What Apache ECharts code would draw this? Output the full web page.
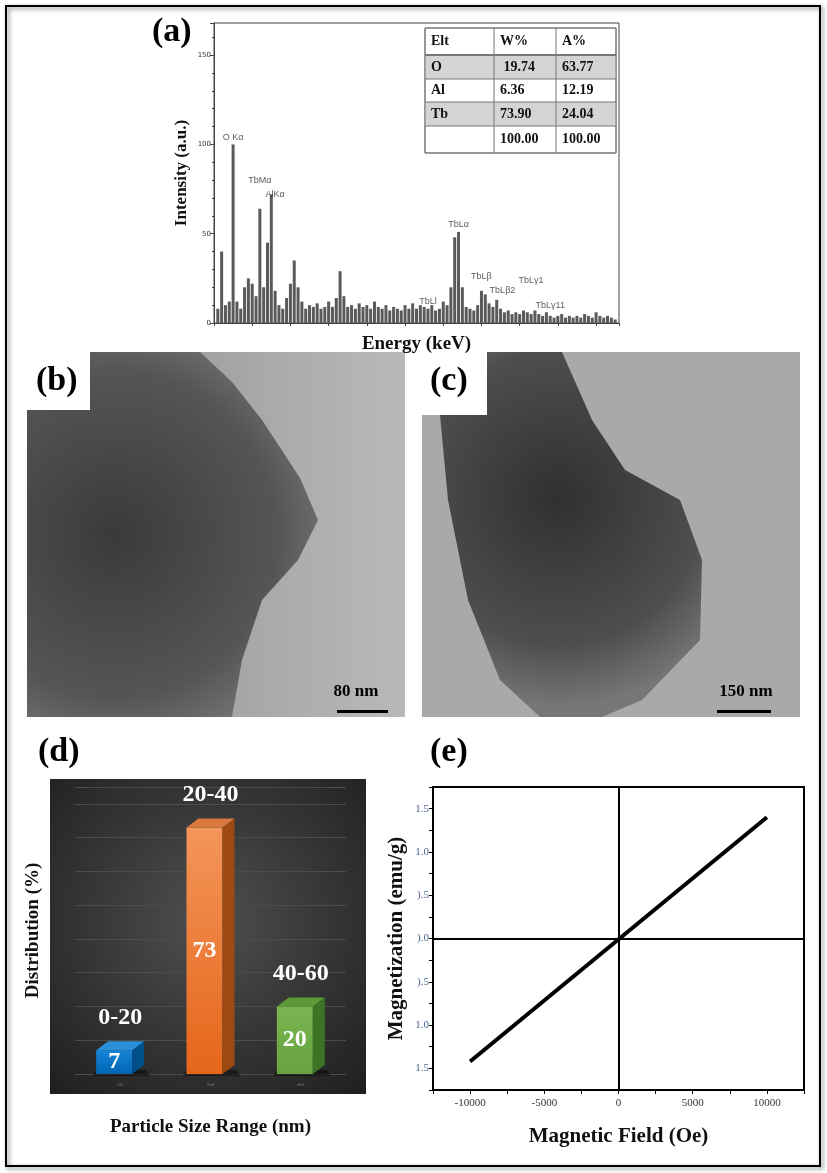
<!DOCTYPE html>
<html>
<head>
<meta charset="utf-8">
<title>Tb-Al-O figure</title>
<script src="https://cdn.jsdelivr.net/npm/echarts@6/dist/echarts.min.js"></script>
</head>
<body style="margin:0;background:#fff;">
<div id="main" style="width:827px;height:1173px;"></div>
<script>
// (a) EDS spectrum, one value every 0.1 keV starting at 0.1 keV
var edsStart = 0.1, edsStep = 0.1;
var edsCounts = [8,40,10,12,100,12,8,20,25,22,15,64,20,45,72,18,10,8,14,22,
  35,20,12,8,10,9,11,8,9,12,9,14,29,15,9,10,8,11,9,10,
  8,12,9,8,10,7,9,8,7,10,8,11,8,10,9,8,10,7,8,12,
  10,20,48,51,20,9,8,7,10,18,16,11,9,13,8,6,7,5,6,5,
  7,6,5,7,5,4,6,4,3,4,5,3,4,3,4,3,5,4,3,6,4,3,4,3,2];
var peakNames = ['O K\u03b1','TbM\u03b1','AlK\u03b1','TbL\u03b1','TbLl','TbL\u03b2','TbL\u03b22','TbL\u03b31','TbL\u03b311'];
var peakPos = [[0.5,104],[1.2,80],[1.6,72],[6.4,55],[5.6,12],[7.0,26],[7.55,18],[8.3,24],[8.8,10]];
var tableRows = [['Elt','W%','A%'],['O',' 19.74','63.77'],['Al','6.36','12.19'],['Tb','73.90','24.04'],['','100.00','100.00']];

// (d) particle size distribution
var sizeRanges = ['0-20','20-40','40-60'];
var sizeShare = [7,73,20];

// (e) M-H curve end points
var fieldOe = [-10000,10000];
var magnet = [-1.42,1.40];
var fieldLabelTicks = [-10000,-5000,0,5000,10000];
var fieldTicks = [-12500,-10000,-7500,-5000,-2500,0,2500,5000,7500,10000,12500];
var magLabels = {'1.5':'1.5','1':'1.0','0.5':').5','0':').0','-0.5':').5','-1':'1.0','-1.5':'1.5'};

var eds = edsCounts.map(function(v,i){ return [+(edsStart+i*edsStep).toFixed(2), v]; });

var barColors = [
  {front:['#1784d6','#0065b3'], top:'#2a8fd8', side:'#004e8a'},
  {front:['#f4955a','#e5661a'], top:'#d9793f', side:'#9c4a12'},
  {front:['#79b550','#66a23e'], top:'#5b9a36', side:'#3e7225'}
];

var chart = echarts.init(document.getElementById('main'));
var serif = 'Liberation Serif';

function render3dBar(params, api){
  var i = api.value(0), v = api.value(1);
  var base = api.coord([i, 0]), topP = api.coord([i, v]);
  var w = 36, dx = 12, dy = 9;
  var x0 = base[0] - w/2 - 6, x1 = x0 + w, yb = base[1], yt = topP[1];
  var c = barColors[i];
  return {type:'group', children:[
    {type:'polygon', shape:{points:[[x0-4,yb+2],[x1+dx+6,yb+2],[x1+dx+2,yb-4],[x0,yb-4]]}, style:{fill:'rgba(0,0,0,0.45)'}},
    {type:'rect', shape:{x:x0,y:yt,width:w,height:yb-yt},
      style:{fill:new echarts.graphic.LinearGradient(0,0,0,1,[{offset:0,color:c.front[0]},{offset:1,color:c.front[1]}])}},
    {type:'polygon', shape:{points:[[x1,yt],[x1+dx,yt-dy],[x1+dx,yb-dy],[x1,yb]]}, style:{fill:c.side}},
    {type:'polygon', shape:{points:[[x0,yt],[x0+dx,yt-dy],[x1+dx,yt-dy],[x1,yt]]}, style:{fill:c.top}},
    {type:'text', style:{text:String(v), x:x0+w/2, y:(yt+yb)/2, align:'center', verticalAlign:'middle',
      fill:'#fff', font:'bold 24px "Liberation Serif"'}},
    {type:'text', style:{text:sizeRanges[i], x:x0+w/2+6, y:yt-dy-12, align:'center', verticalAlign:'bottom',
      fill:'#fff', font:'bold 24px "Liberation Serif"'}}
  ]};
}

var tableGraphics = [];
(function(){
  var xs = [425,494,556,616], ys = [28,55,79,102,126,153];
  tableGraphics.push({type:'rect', shape:{x:425,y:28,width:191,height:125}, style:{fill:'#fff',stroke:'#777',lineWidth:1}});
  [1,3].forEach(function(r){
    tableGraphics.push({type:'rect', shape:{x:425,y:ys[r],width:191,height:ys[r+1]-ys[r]}, style:{fill:'#d4d4d4'}});
  });
  for (var r=1;r<5;r++) tableGraphics.push({type:'line', shape:{x1:425,y1:ys[r],x2:616,y2:ys[r]}, style:{stroke:'#777',lineWidth:r==1?2:1}});
  for (var k=1;k<3;k++) tableGraphics.push({type:'line', shape:{x1:xs[k],y1:28,x2:xs[k],y2:153}, style:{stroke:'#777'}});
  tableGraphics.push({type:'rect', shape:{x:425,y:28,width:191,height:125}, style:{fill:'none',stroke:'#777',lineWidth:1}});
  tableRows.forEach(function(row,r){
    row.forEach(function(t,k){
      tableGraphics.push({type:'text', style:{text:t, x:xs[k]+6, y:(ys[r]+ys[r+1])/2, verticalAlign:'middle',
        fill:'#111', font:'bold 14px "Liberation Serif"'}});
    });
  });
})();

function scaleBar(label, tx, x1, x2){
  return [
    {type:'text', style:{text:label, x:tx, y:692, align:'center', verticalAlign:'middle', fill:'#000', font:'bold 17px "Liberation Serif"'}},
    {type:'rect', shape:{x:x1,y:710,width:x2-x1,height:3}, style:{fill:'#000'}}
  ];
}

var graphics = [
  {type:'rect', shape:{x:6,y:6,width:814,height:1160}, style:{fill:'none',stroke:'#000',lineWidth:2,shadowBlur:4,shadowColor:'rgba(0,0,0,0.5)',shadowOffsetX:2,shadowOffsetY:2}},
  // TEM micrographs (b) and (c), drawn only as shaded placeholders
  {type:'rect', shape:{x:27,y:352,width:378,height:365}, style:{fill:new echarts.graphic.LinearGradient(0,0,1,0,[{offset:0,color:'#8e8e8e'},{offset:1,color:'#b9b9b9'}])}},
  {type:'polygon', shape:{points:[[27,410],[90,410],[90,352],[200,352],[232,382],[262,420],[300,478],[318,520],[298,560],[262,600],[242,660],[232,717],[27,717]]},
    style:{fill:new echarts.graphic.RadialGradient(0.3,0.5,0.8,[{offset:0,color:'#3a3a3a'},{offset:0.7,color:'#555'},{offset:1,color:'#7a7a7a'}])}},
  {type:'rect', shape:{x:27,y:352,width:63,height:58}, style:{fill:'#fff'}},
  {type:'rect', shape:{x:422,y:352,width:378,height:365}, style:{fill:'#a9a9a9'}},
  {type:'polygon', shape:{points:[[487,352],[562,352],[592,420],[625,470],[680,500],[702,560],[700,640],[642,700],[602,717],[540,717],[500,680],[468,600],[448,500],[440,415],[487,415]]},
    style:{fill:new echarts.graphic.RadialGradient(0.45,0.4,0.8,[{offset:0,color:'#303030'},{offset:0.7,color:'#4e4e4e'},{offset:1,color:'#777'}])}},
  {type:'rect', shape:{x:422,y:352,width:65,height:63}, style:{fill:'#fff'}},
  {type:'text', style:{text:'(b)', x:36, y:381, verticalAlign:'middle', fill:'#000', font:'bold 34px "Liberation Serif"'}},
  {type:'text', style:{text:'(c)', x:430, y:381, verticalAlign:'middle', fill:'#000', font:'bold 34px "Liberation Serif"'}},
  // (d) dark chart background
  {type:'rect', shape:{x:50,y:779,width:316,height:315}, z:-1,
    style:{fill:new echarts.graphic.RadialGradient(0.5,0.45,0.75,[{offset:0,color:'#4f4f4f'},{offset:1,color:'#1e1e1e'}])}},
  {type:'text', style:{text:'(a)', x:152, y:32, verticalAlign:'middle', fill:'#000', font:'bold 34px "Liberation Serif"'}},
  {type:'text', style:{text:'(d)', x:38, y:752, verticalAlign:'middle', fill:'#000', font:'bold 34px "Liberation Serif"'}},
  {type:'text', style:{text:'(e)', x:430, y:752, verticalAlign:'middle', fill:'#000', font:'bold 34px "Liberation Serif"'}}
].concat(scaleBar('80 nm',356,337,388), scaleBar('150 nm',746,717,771), tableGraphics);

chart.setOption({
  animation:false,
  textStyle:{fontFamily:serif},
  graphic:graphics,
  grid:[
    {left:214, top:23, width:405, height:300, show:true, borderColor:'#444', borderWidth:1},
    {left:75, top:787, width:271, height:287},
    {left:433, top:787, width:371, height:303, show:true, borderColor:'#000', borderWidth:2}
  ],
  xAxis:[
    {gridIndex:0, type:'value', min:0, max:10.6, interval:1, name:'Energy (keV)', nameLocation:'middle', nameGap:12,
      nameTextStyle:{fontSize:19, fontWeight:'bold', color:'#111', fontFamily:serif},
      axisLine:{lineStyle:{color:'#444'}}, axisTick:{length:3}, axisLabel:{show:false}, splitLine:{show:false}},
    {gridIndex:1, type:'category', data:sizeRanges, axisLine:{show:false}, axisTick:{show:false},
      axisLabel:{color:'#888', fontSize:3, margin:10}, name:'Particle Size Range (nm)', nameLocation:'middle', nameGap:44,
      nameTextStyle:{fontSize:19, fontWeight:'bold', color:'#111', fontFamily:serif}},
    {gridIndex:2, type:'value', min:-12500, max:12500, name:'Magnetic Field (Oe)', nameLocation:'middle', nameGap:36,
      nameTextStyle:{fontSize:21, fontWeight:'bold', color:'#111', fontFamily:serif},
      axisLine:{onZero:false, lineStyle:{color:'#000',width:2}}, splitLine:{show:false},
      axisTick:{customValues:fieldTicks, length:4, lineStyle:{color:'#000'}},
      axisLabel:{customValues:fieldLabelTicks, color:'#333', fontSize:11, fontFamily:serif, formatter:function(v){ return String(v); }}}
  ],
  yAxis:[
    {gridIndex:0, type:'value', min:0, max:168, interval:50, name:'Intensity (a.u.)', nameLocation:'middle', nameGap:24,
      nameTextStyle:{fontSize:17, fontWeight:'bold', color:'#111', fontFamily:serif},
      axisLine:{lineStyle:{color:'#444'}}, axisTick:{length:4}, minorTick:{show:true, splitNumber:5, length:2},
      axisLabel:{fontSize:7, color:'#333', margin:3, showMaxLabel:false, fontFamily:'DejaVu Sans'}, splitLine:{show:false}},
    {gridIndex:1, type:'value', min:0, max:85, interval:10, name:'Distribution (%)', nameLocation:'middle', nameGap:32,
      nameTextStyle:{fontSize:19, fontWeight:'bold', color:'#111', fontFamily:serif},
      axisLine:{show:false}, axisTick:{show:false}, axisLabel:{color:'#888', fontSize:3, formatter:'\u00b7'},
      splitLine:{lineStyle:{color:'#4c4c4c'}}},
    {gridIndex:2, type:'value', min:-1.75, max:1.75, interval:0.25, name:'Magnetization (emu/g)', nameLocation:'middle', nameGap:26,
      nameTextStyle:{fontSize:21, fontWeight:'bold', color:'#111', fontFamily:serif},
      axisLine:{onZero:false, lineStyle:{color:'#000',width:2}}, splitLine:{show:false},
      axisTick:{length:4, lineStyle:{color:'#000'}},
      axisLabel:{color:'#4a6790', fontSize:11, margin:4, fontFamily:serif,
        formatter:function(v){ var s=magLabels[String(+v.toFixed(2))]; return s===undefined?'':s; }}}
  ],
  series:[
    {type:'bar', xAxisIndex:0, yAxisIndex:0, data:eds, barWidth:3, itemStyle:{color:'#5a5a5a'}, silent:true},
    {type:'scatter', xAxisIndex:0, yAxisIndex:0, symbolSize:0, silent:true,
      data:peakPos.map(function(p,k){ return {value:p, name:peakNames[k]}; }),
      label:{show:true, formatter:'{b}', position:'inside', color:'#333', fontSize:9, fontFamily:'Liberation Sans'}},
    {type:'custom', xAxisIndex:1, yAxisIndex:1, renderItem:render3dBar,
      data:sizeShare.map(function(v,i){ return [i,v]; })},
    {type:'line', xAxisIndex:2, yAxisIndex:2, showSymbol:false, lineStyle:{color:'#000', width:4},
      data:fieldOe.map(function(f,i){ return [f, magnet[i]]; }),
      markLine:{silent:true, symbol:'none', label:{show:false}, lineStyle:{color:'#000', width:2, type:'solid'},
        data:[{xAxis:0},{yAxis:0}]}}
  ]
});
</script>
</body>
</html>
